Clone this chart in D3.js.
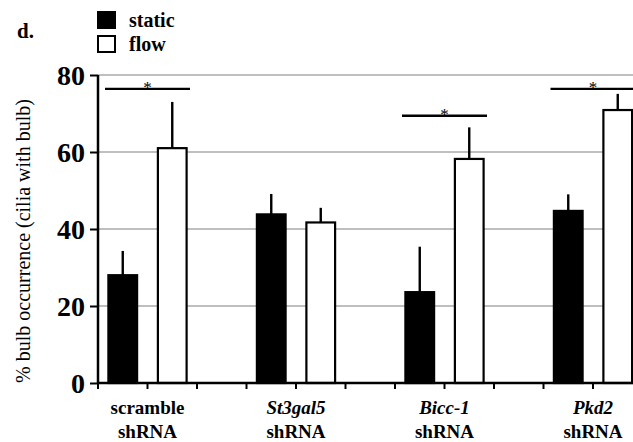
<!DOCTYPE html>
<html><head><meta charset="utf-8">
<script src="https://cdn.jsdelivr.net/npm/d3@7"></script>
<style>body{margin:0;background:#fff}svg{display:block}</style>
</head><body>
<script>
const groups = ["scramble", "St3gal5", "Bicc-1", "Pkd2"];
const groupItalic = [false, true, true, true];
const slots = ["static", "flow", "gap"];
const staticVals = [28, 43.8, 23.6, 44.7];
const staticErr = [6.3, 5.3, 11.8, 4.3];
const flowVals = [61, 41.7, 58.2, 70.9];
const flowErr = [12, 3.8, 8.2, 4.2];
const sigLevel = [76.4, null, 69.4, 76.4];
const yTicks = [0, 20, 40, 60, 80];
const seriesNames = ["static", "flow"];

const W = 633, H = 442;
const FONT = "Liberation Serif";
const svg = d3.select("body").append("svg").attr("width", W).attr("height", H)
  .attr("font-family", FONT);

const x0 = 98, yBottom = 383, yTop = 75;
const groupW = 148.5;
const xg = d3.scaleBand().domain(groups).range([x0, x0 + groupW * groups.length]);
const xs = d3.scaleBand().domain(slots).range([0, xg.bandwidth()]);
const y = d3.scaleLinear().domain([0, 80]).range([yBottom, yTop]);
const barW = xs.bandwidth() * 0.58;

// gridlines
svg.append("g").selectAll("line").data(yTicks.filter(d => d > 0)).join("line")
  .attr("x1", x0).attr("x2", W).attr("y1", d => y(d)).attr("y2", d => y(d))
  .attr("stroke", "#aaa").attr("stroke-width", 1.6);

// bars
const data = [];
groups.forEach((g, i) => {
  data.push({g, s: "static", v: staticVals[i], e: staticErr[i]});
  data.push({g, s: "flow", v: flowVals[i], e: flowErr[i]});
});
const bx = d => xg(d.g) + xs(d.s) + (xs.bandwidth() - barW) / 2;
svg.append("g").selectAll("line").data(data).join("line")
  .attr("x1", d => bx(d) + barW / 2).attr("x2", d => bx(d) + barW / 2)
  .attr("y1", d => y(d.v)).attr("y2", d => y(d.v + d.e))
  .attr("stroke", "#000").attr("stroke-width", 2.4);
svg.append("g").selectAll("rect").data(data).join("rect")
  .attr("x", d => bx(d)).attr("width", barW)
  .attr("y", d => y(d.v)).attr("height", d => y(0) - y(d.v))
  .attr("fill", d => d.s === "static" ? "#000" : "#fff")
  .attr("stroke", "#000").attr("stroke-width", 2.2);

// y axis
const yAxis = svg.append("g").attr("transform", `translate(${x0},0)`)
  .call(d3.axisLeft(y).tickValues(yTicks).tickSize(8).tickPadding(5));
yAxis.attr("font-family", FONT);
yAxis.select(".domain").attr("d", `M0,${yTop}V${yBottom}`).attr("stroke-width", 2.5);
yAxis.selectAll(".tick line").attr("stroke-width", 2);
yAxis.selectAll(".tick text").attr("font-weight", "bold")
  .attr("font-size", 28).attr("fill", "#000").attr("dy", "0.34em");

// x axis
const tickPos = [];
groups.forEach(g => slots.forEach(s => tickPos.push(xg(g) + xs(s))));
svg.append("line").attr("x1", x0).attr("x2", W).attr("y1", yBottom).attr("y2", yBottom)
  .attr("stroke", "#000").attr("stroke-width", 2.5);
svg.append("g").selectAll("line").data(tickPos).join("line")
  .attr("x1", d => d).attr("x2", d => d).attr("y1", yBottom).attr("y2", yBottom + 6)
  .attr("stroke", "#000").attr("stroke-width", 2);

// category labels
const labG = svg.append("g").attr("font-weight", "bold").attr("font-size", 19);
labG.selectAll("text.cat").data(groups).join("text").attr("class", "cat")
  .attr("x", g => xg(g) + xs("flow")).attr("y", 414).attr("text-anchor", "middle")
  .attr("font-style", (g, i) => groupItalic[i] ? "italic" : "normal").text(g => g);
labG.selectAll("text.sh").data(groups).join("text").attr("class", "sh")
  .attr("x", g => xg(g) + xs("flow")).attr("y", 438).attr("text-anchor", "middle")
  .text("shRNA");

// significance
groups.forEach((g, i) => {
  if (sigLevel[i] == null) return;
  const xa = xg(g) + xs("static") + 7, xb = xg(g) + xs("gap") - 7;
  const yy = y(sigLevel[i]);
  svg.append("line").attr("x1", xa).attr("x2", xb).attr("y1", yy).attr("y2", yy)
    .attr("stroke", "#000").attr("stroke-width", 2.4);
  svg.append("text").attr("x", (xa + xb) / 2).attr("y", yy + 4)
    .attr("text-anchor", "middle").attr("font-size", 17).text("*");
});

// y title
svg.append("text").attr("transform", "translate(30,241) rotate(-90)")
  .attr("text-anchor", "middle").attr("font-size", 20)
  .text("% bulb occurrence (cilia with bulb)");

// panel label
svg.append("text").attr("x", 17).attr("y", 38)
  .attr("font-weight", "bold").attr("font-size", 21).text("d.");

// legend
const leg = svg.append("g").selectAll("g").data(seriesNames).join("g")
  .attr("transform", (d, i) => `translate(98,${12 + i * 24})`);
leg.append("rect").attr("width", 17).attr("height", 16)
  .attr("fill", d => d === "static" ? "#000" : "#fff").attr("stroke", "#000").attr("stroke-width", 2);
leg.append("text").attr("x", 31).attr("y", 15)
  .attr("font-weight", "bold").attr("font-size", 20).text(d => d);

// force serif font on every text element
svg.selectAll("text").attr("font-family", FONT).style("font-family", FONT, "important");
</script>
</body></html>
